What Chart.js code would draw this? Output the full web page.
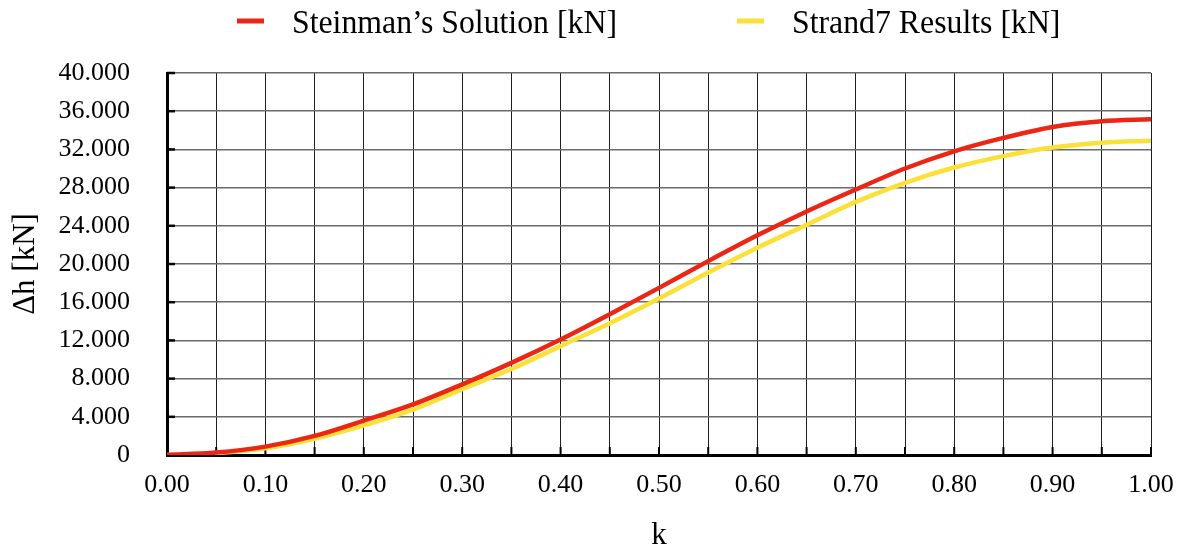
<!DOCTYPE html>
<html>
<head>
<meta charset="utf-8">
<title>Δh vs k</title>
<script src="https://cdn.jsdelivr.net/npm/chart.js@4.4.1/dist/chart.umd.min.js"></script>
<style>
  html, body { margin: 0; padding: 0; background: #fff; }
  canvas { display: block; }
</style>
</head>
<body>
<canvas id="grafico" width="1184" height="551"></canvas>
<script>
// Valores de k (0 a 1, passo 0.05)
const valoresK = [0, 0.05, 0.10, 0.15, 0.20, 0.25, 0.30, 0.35, 0.40, 0.45, 0.50,
                  0.55, 0.60, 0.65, 0.70, 0.75, 0.80, 0.85, 0.90, 0.95, 1.00];

// Δh [kN] - solução de Steinman
const steinman = [0, 0.25, 0.88, 2.0, 3.6, 5.3, 7.4, 9.65, 12.1, 14.75, 17.5,
                  20.3, 23.0, 25.5, 27.8, 30.0, 31.8, 33.2, 34.35, 34.95, 35.15];

// Δh [kN] - resultados do Strand7
const strand7 = [0, 0.2, 0.7, 1.7, 3.1, 4.75, 6.9, 9.0, 11.4, 13.8, 16.4,
                 19.1, 21.7, 24.1, 26.5, 28.5, 30.1, 31.3, 32.2, 32.7, 32.9];

const rotulos = ["Steinman’s Solution [kN]", 'Strand7 Results [kN]'];
const ticksY = [0, 4, 8, 12, 16, 20, 24, 28, 32, 36, 40];

const FONTE = "'Liberation Serif', 'Times New Roman', serif";
const VERMELHO = 'rgb(236, 38, 20)';
const AMARELO = 'rgb(250, 224, 55)';

// Pequenos traços internos nos eixos
const tracosInternos = {
    id: 'tracosInternos',
    beforeDatasetsDraw(chart) {
        const { ctx, chartArea, scales } = chart;
        ctx.save();
        ctx.strokeStyle = '#000';
        ctx.lineWidth = 2.5;
        scales.y.ticks.forEach(t => {
            const y = scales.y.getPixelForValue(t.value);
            ctx.beginPath();
            ctx.moveTo(chartArea.left, y);
            ctx.lineTo(chartArea.left + 8, y);
            ctx.stroke();
        });
        ctx.lineWidth = 2;
        scales.x.ticks.forEach(t => {
            const x = scales.x.getPixelForValue(t.value);
            ctx.beginPath();
            ctx.moveTo(x, chartArea.bottom);
            ctx.lineTo(x, chartArea.bottom - 8);
            ctx.stroke();
        });
        ctx.restore();
    }
};

// Legenda desenhada à mão (traço colorido + texto)
const legendaX = [237, 737];
const legendaManual = {
    id: 'legendaManual',
    afterDraw(chart) {
        const { ctx } = chart;
        ctx.save();
        ctx.font = '34px ' + FONTE;
        ctx.textBaseline = 'alphabetic';
        chart.data.datasets.forEach((ds, i) => {
            const x = legendaX[i];
            ctx.fillStyle = ds.borderColor;
            ctx.fillRect(x, 18.5, 27, 5);
            ctx.fillStyle = '#000';
            const largura = ctx.measureText(ds.label).width * 0.935;
            ctx.fillText(ds.label, x + 55, 33, largura);
        });
        ctx.restore();
    }
};

const ctx = document.getElementById('grafico').getContext('2d');
new Chart(ctx, {
    type: 'line',
    data: {
        datasets: [
            {
                label: rotulos[0],
                data: valoresK.map((k, i) => ({ x: k, y: steinman[i] })),
                borderColor: VERMELHO,
                backgroundColor: VERMELHO,
                borderWidth: 4.5,
                pointRadius: 0,
                cubicInterpolationMode: 'monotone'
            },
            {
                label: rotulos[1],
                data: valoresK.map((k, i) => ({ x: k, y: strand7[i] })),
                borderColor: AMARELO,
                backgroundColor: AMARELO,
                borderWidth: 4.5,
                pointRadius: 0,
                cubicInterpolationMode: 'monotone'
            }
        ]
    },
    options: {
        responsive: false,
        animation: false,
        layout: { padding: { top: 73, right: 33, left: 0, bottom: 0 } },
        plugins: {
            legend: { display: false },
            tooltip: { enabled: false }
        },
        scales: {
            x: {
                type: 'linear',
                min: 0,
                max: 1,
                afterFit: s => { s.height = 96; s.paddingLeft = 0; s.paddingRight = 0; },
                ticks: {
                    stepSize: 0.05,
                    autoSkip: false,
                    maxRotation: 0,
                    padding: 15,
                    color: '#000',
                    font: { family: FONTE, size: 26 },
                    callback: v => (Math.round(v * 100) % 10 === 0 ? v.toFixed(2) : '')
                },
                grid: { color: '#1e1e1e', lineWidth: 1, drawTicks: false },
                border: { color: '#000', width: 3 },
                title: {
                    display: true,
                    text: 'k',
                    color: '#000',
                    font: { family: FONTE, size: 31, lineHeight: 1 },
                    padding: { top: 0, bottom: 0 }
                }
            },
            y: {
                min: 0,
                max: 40,
                afterFit: s => { s.width = 167; s.paddingTop = 0; s.paddingBottom = 0; },
                afterBuildTicks: s => { s.ticks = ticksY.map(v => ({ value: v })); },
                ticks: {
                    padding: 37,
                    color: '#000',
                    font: { family: FONTE, size: 26 },
                    callback: v => (v === 0 ? '0' : v.toFixed(3))
                },
                grid: { color: '#6b6b6b', lineWidth: 1.5, drawTicks: false },
                border: { color: '#000', width: 3 },
                title: {
                    display: true,
                    text: 'Δh [kN]',
                    color: '#000',
                    font: { family: FONTE, size: 31, lineHeight: 1 },
                    padding: { top: 10, bottom: 0 }
                }
            }
        }
    },
    plugins: [tracosInternos, legendaManual]
});
</script>
</body>
</html>
